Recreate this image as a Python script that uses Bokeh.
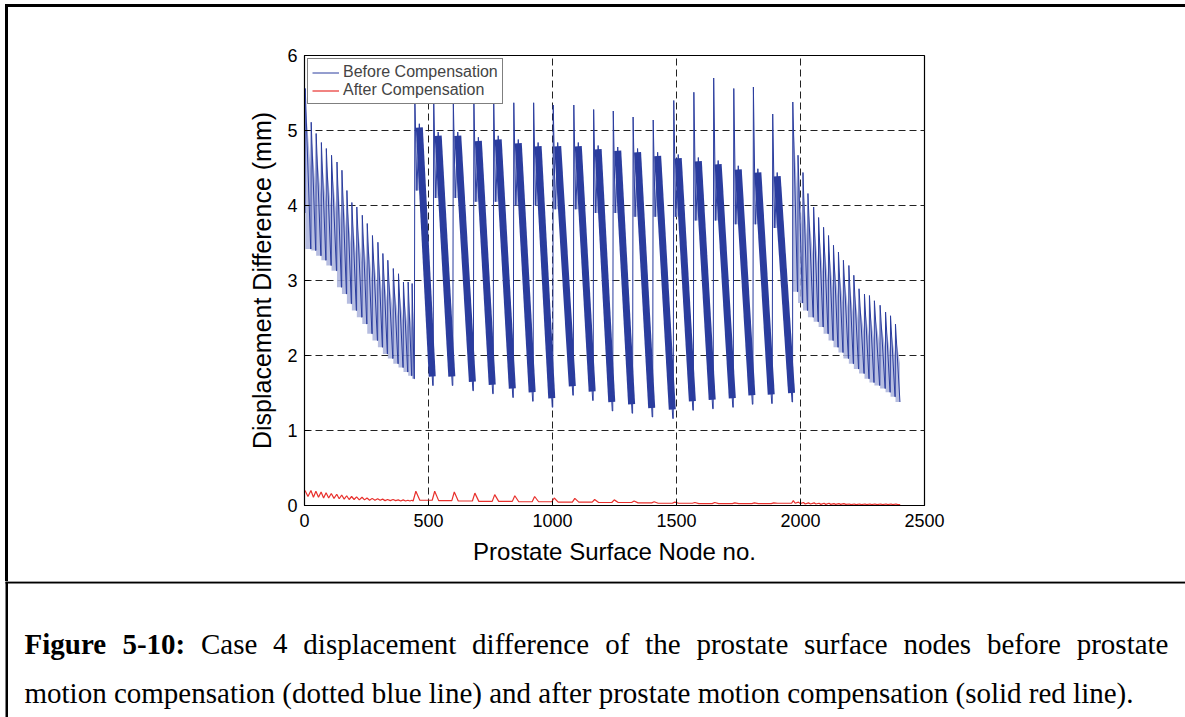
from bokeh.plotting import figure
from bokeh.layouts import column, row
from bokeh.models import Range1d, Legend, LegendItem, FixedTicker, Div
from bokeh.core.properties import value
from bokeh.embed import file_html
from bokeh.resources import INLINE

# ---------------- data ----------------
x_ticks = [0, 500, 1000, 1500, 2000, 2500]
y_ticks = [0, 1, 2, 3, 4, 5, 6]

# Before compensation: first region (small teeth)
left_start = 3.9
left_x = [2, 26, 46, 67, 87, 108, 130, 150, 170, 190, 210, 232, 252, 273, 295, 315, 335, 357, 378, 398, 417, 433]
left_peak = [5.56, 5.11, 4.96, 4.84, 4.76, 4.67, 4.58, 4.47, 4.20, 4.04, 3.98, 3.87, 3.76, 3.60, 3.51, 3.36,
             3.27, 3.16, 3.09, 2.98, 2.98, 2.96]
left_trough = [3.42, 3.40, 3.33, 3.27, 3.20, 3.13, 2.91, 2.82, 2.69, 2.60, 2.51, 2.42, 2.29, 2.20, 2.11, 2.02,
               1.96, 1.89, 1.84, 1.78, 1.73, 1.69]

# Before compensation: middle region (large teeth)
mid_x = [443, 519, 598, 681, 761, 842, 922, 1001, 1084, 1164, 1243, 1323, 1404, 1487, 1568, 1648, 1729, 1808, 1886]
mid_peak = [5.42, 5.44, 5.40, 5.40, 5.39, 5.37, 5.37, 5.34, 5.34, 5.28, 5.26, 5.18, 5.14, 5.40, 5.51, 5.70,
            5.56, 5.58, 5.22]
mid_dip = [4.20, 4.10, 4.10, 4.05, 4.05, 4.00, 4.00, 3.95, 3.95, 3.90, 3.90, 3.85, 3.85, 3.85, 3.80, 3.80,
           3.75, 3.75, 3.70]
mid_sec = [5.09, 4.98, 4.98, 4.91, 4.93, 4.88, 4.84, 4.84, 4.84, 4.80, 4.78, 4.76, 4.71, 4.68, 4.64, 4.60,
           4.53, 4.49, 4.44]
mid_trough = [1.60, 1.60, 1.53, 1.49, 1.44, 1.39, 1.31, 1.47, 1.40, 1.26, 1.23, 1.18, 1.16, 1.27, 1.29, 1.31,
              1.35, 1.36, 1.38]

# Before compensation: last region (small teeth)
right_x = [1968, 1989, 2009, 2029, 2052, 2072, 2092, 2112, 2132, 2152, 2172, 2194, 2214, 2235, 2257, 2277,
           2297, 2320, 2342, 2362, 2382]
right_end = 2402
right_peak = [5.38, 4.67, 4.44, 4.16, 3.98, 3.84, 3.71, 3.60, 3.47, 3.38, 3.27, 3.20, 3.07, 2.89, 2.82, 2.80,
              2.73, 2.67, 2.58, 2.53, 2.42]
right_trough = [2.85, 2.70, 2.60, 2.51, 2.45, 2.38, 2.29, 2.20, 2.11, 2.04, 1.96, 1.89, 1.82, 1.76, 1.69, 1.64,
                1.60, 1.56, 1.51, 1.45, 1.38]

# After compensation
red_left_peak = [0.20, 0.20, 0.19, 0.18, 0.17, 0.16, 0.15, 0.14, 0.13, 0.12, 0.115, 0.11, 0.10, 0.095, 0.09,
                 0.085, 0.08, 0.08, 0.075, 0.075, 0.07, 0.07]
red_left_trough = [0.12, 0.11, 0.11, 0.10, 0.10, 0.095, 0.09, 0.085, 0.08, 0.08, 0.075, 0.075, 0.07, 0.07, 0.07,
                   0.065, 0.065, 0.065, 0.06, 0.06, 0.06, 0.06]
red_mid_peak = [0.19, 0.19, 0.18, 0.165, 0.145, 0.13, 0.12, 0.10, 0.095, 0.08, 0.075, 0.06, 0.05, 0.045, 0.04,
                0.04, 0.035, 0.035, 0.035]
red_mid_base = [0.07, 0.065, 0.06, 0.055, 0.055, 0.05, 0.05, 0.045, 0.045, 0.04, 0.04, 0.035, 0.03, 0.03, 0.025,
                0.025, 0.025, 0.025, 0.03]
red_right_peak = [0.065, 0.045, 0.04, 0.035, 0.035, 0.03, 0.03, 0.03, 0.025, 0.025, 0.025, 0.02, 0.02, 0.02,
                  0.02, 0.02, 0.02, 0.02, 0.02, 0.02, 0.02]
red_right_base = [0.03, 0.025, 0.02, 0.02, 0.02, 0.015, 0.015, 0.015, 0.015, 0.015, 0.015, 0.012, 0.012, 0.012,
                  0.012, 0.012, 0.012, 0.012, 0.012, 0.012, 0.012]

caption_label = ["Figure", "5-10:"]
caption_line1 = ["Case", "4", "displacement", "difference", "of", "the", "prostate", "surface", "nodes",
                 "before", "prostate"]
caption_line2 = "motion compensation (dotted blue line) and after prostate motion compensation (solid red line)."

# ---------------- geometry built from the data ----------------
BLUE = "#2b3d9e"
LIGHT = "#a9b2db"
RED = "#e8302c"

bx, by = [0], [left_start]
fill_xs, fill_ys = [], []
nL = len(left_x)
for k in range(nL):
    nxt = left_x[k + 1] if k + 1 < nL else mid_x[0]
    bx += [left_x[k], left_x[k] + 1, nxt - 1]
    by += [by[-1], left_peak[k], left_trough[k]]
    upper = (left_peak[k] + left_trough[k]) / 2
    fill_xs.append([left_x[k] + 1, nxt - 1, nxt - 1, left_x[k] + 1])
    fill_ys.append([left_peak[k] - 0.15, upper, left_trough[k], left_trough[k]])

band_x0, band_y0, band_x1, band_y1 = [], [], [], []
nM = len(mid_x)
for k in range(nM):
    xs = mid_x[k]
    end = mid_x[k + 1] if k + 1 < nM else right_x[0]
    prev = by[-1]
    bx += [xs, xs + 2, xs + 10, xs + 20, end - 2]
    by += [prev, mid_peak[k], mid_dip[k], mid_sec[k], mid_trough[k]]
    fill_xs.append([xs + 1, xs + 2, xs + 10, xs + 20, xs + 20])
    fill_ys.append([mid_dip[k], mid_peak[k], mid_dip[k], mid_sec[k], mid_dip[k]])
    band_x0.append(xs + 20)
    band_y0.append(mid_sec[k] - 0.05)
    band_x1.append(end - 4)
    band_y1.append(mid_trough[k] + 0.12)

nR = len(right_x)
for k in range(nR):
    xs = right_x[k]
    end = right_x[k + 1] if k + 1 < nR else right_end
    prev = by[-1]
    bx += [xs, xs + 1, end - 1]
    by += [prev, right_peak[k], right_trough[k]]
    upper = (right_peak[k] + right_trough[k]) / 2
    fill_xs.append([xs + 1, end - 1, end - 1, xs + 1])
    fill_ys.append([right_peak[k] - 0.15, upper, right_trough[k], right_trough[k]])

rx, ry = [], []
for k in range(nL):
    nxt = left_x[k + 1] if k + 1 < nL else mid_x[0]
    rx += [left_x[k], (left_x[k] + nxt) / 2]
    ry += [red_left_peak[k], red_left_trough[k]]
for k in range(nM):
    xs = mid_x[k]
    end = mid_x[k + 1] if k + 1 < nM else right_x[0]
    rx += [xs + 6, xs + 22, end - 4]
    ry += [red_mid_peak[k], red_mid_base[k], red_mid_base[k]]
for k in range(nR):
    xs = right_x[k]
    end = right_x[k + 1] if k + 1 < nR else right_end
    rx += [xs + 3, (xs + end) / 2]
    ry += [red_right_peak[k], red_right_base[k]]
rx.append(right_end)
ry.append(red_right_base[-1])

# ---------------- page pieces ----------------
PAGE_W = 1185
TOP_H = 7           # strip holding the top border
LEFT_W = 8          # strip holding the left border
CHART_H = 574       # chart block from y=7 to y=581
CAP_TOP = TOP_H + CHART_H

top_strip = Div(text="", width=PAGE_W - 5, height=3, margin=(4, 0, 0, 5),
                styles={"background-color": "#000000"})
left_strip = Div(width=LEFT_W, height=CHART_H, margin=0,
                 text=('<div style="position:relative;width:8px;height:574px;">'
                       '<div style="position:absolute;left:5px;top:0px;width:2.5px;height:574px;'
                       'background:#000;"></div></div>'))

# ---------------- chart ----------------
FL, FT, FR, FB = 304, 55, 924, 505     # frame edges on the page
p = figure(width=PAGE_W - LEFT_W, height=CHART_H, output_backend="svg", toolbar_location=None,
           x_range=Range1d(0, 2500), y_range=Range1d(0, 6),
           min_border_left=FL - LEFT_W, min_border_right=PAGE_W - FR,
           min_border_top=FT - TOP_H, min_border_bottom=CAP_TOP - FB)
p.background_fill_color = "white"
p.border_fill_color = "white"
p.outline_line_color = "black"
p.outline_line_width = 1.2

p.patches(fill_xs, fill_ys, fill_color=LIGHT, fill_alpha=0.85, line_color=None)
p.segment(band_x0, band_y0, band_x1, band_y1, line_color=BLUE, line_width=7, line_cap="butt")
blue = p.line(bx, by, line_color=BLUE, line_width=1)
red = p.line(rx, ry, line_color=RED, line_width=1.2)

for ax in (p.xaxis[0], p.yaxis[0]):
    ax.major_label_text_font = "Liberation Sans"
    ax.major_label_text_font_size = "18px"
    ax.major_label_text_color = "black"
    ax.axis_label_text_font = "Liberation Sans"
    ax.axis_label_text_font_style = "normal"
    ax.axis_label_text_color = "black"
    ax.axis_line_color = "black"
    ax.major_tick_line_color = "black"
    ax.major_tick_in = 5
    ax.major_tick_out = 0
    ax.minor_tick_line_color = None
p.xaxis.axis_label_text_font_size = "24px"
p.yaxis.axis_label_text_font_size = "25px"
p.xaxis.ticker = FixedTicker(ticks=x_ticks)
p.yaxis.ticker = FixedTicker(ticks=y_ticks)
p.xaxis.axis_label = "Prostate Surface Node no."
p.yaxis.axis_label = "Displacement Difference (mm)"
p.xaxis.major_label_standoff = 8
p.yaxis.major_label_standoff = 7
p.xaxis.axis_label_standoff = 8
p.yaxis.axis_label_standoff = 8

for g in (p.xgrid[0], p.ygrid[0]):
    g.grid_line_color = "#222222"
    g.grid_line_dash = "7 4"
    g.grid_line_width = 1
    g.grid_line_alpha = 1
p.xgrid.ticker = FixedTicker(ticks=x_ticks)
p.ygrid.ticker = FixedTicker(ticks=y_ticks)

legend = Legend(items=[LegendItem(label="Before Compensation", renderers=[blue]),
                       LegendItem(label="After Compensation", renderers=[red])],
                location="top_left", margin=3, padding=4, spacing=0, label_standoff=4,
                glyph_width=27, glyph_height=15, label_height=15,
                label_text_font="Liberation Sans", label_text_font_size="16px",
                border_line_color="black", border_line_width=1, background_fill_alpha=1)
p.add_layout(legend)

# ---------------- caption block ----------------
cap = figure(width=PAGE_W, height=717 - CAP_TOP, output_backend="svg", toolbar_location=None,
             x_range=Range1d(0, PAGE_W), y_range=Range1d(717, CAP_TOP),
             x_axis_location=None, y_axis_location=None, min_border=0)
cap.xgrid.visible = False
cap.ygrid.visible = False
cap.outline_line_color = None
cap.quad(left=[5], right=[7.5], top=[CAP_TOP], bottom=[717], fill_color="black", line_color=None)
cap.quad(left=[5], right=[PAGE_W], top=[CAP_TOP - 0.3], bottom=[583], fill_color="black", line_color=None)

REG = {"a": 444, "b": 500, "c": 444, "d": 500, "e": 444, "f": 333, "h": 500, "i": 278, "l": 278, "m": 778,
       "n": 500, "o": 500, "p": 500, "r": 333, "s": 389, "t": 278, "u": 500, "C": 667, "4": 500}
BOLD = {"F": 611, "i": 278, "g": 500, "u": 556, "r": 444, "e": 444, "5": 500, "-": 333, "1": 500, "0": 500,
        ":": 333}
FS = 29
words = [(w, BOLD) for w in caption_label] + [(w, REG) for w in caption_line1]
widths = [sum(tbl[c] for c in w) * FS / 1000 for w, tbl in words]
gap = (1168 - 24 - sum(widths)) / (len(words) - 1)
wx, xpos = [], 24
for wd in widths:
    wx.append(xpos)
    xpos += wd + gap
nb = len(caption_label)
cap.text(x=wx[:nb], y=[643] * nb, text=caption_label, text_font=value("Liberation Serif"),
         text_font_size=f"{FS}px", text_font_style="bold", text_color="black",
         text_baseline="alphabetic", text_align="left")
cap.text(x=wx[nb:], y=[643] * (len(words) - nb), text=caption_line1, text_font=value("Liberation Serif"),
         text_font_size=f"{FS}px", text_color="black", text_baseline="alphabetic", text_align="left")
cap.text(x=[24], y=[692], text=[caption_line2], text_font=value("Liberation Serif"),
         text_font_size=f"{FS}px", text_color="black", text_baseline="alphabetic", text_align="left")

layout = column(top_strip, row(left_strip, p, spacing=0), cap, spacing=0)
open("out.html", "w").write(file_html(layout, INLINE))
